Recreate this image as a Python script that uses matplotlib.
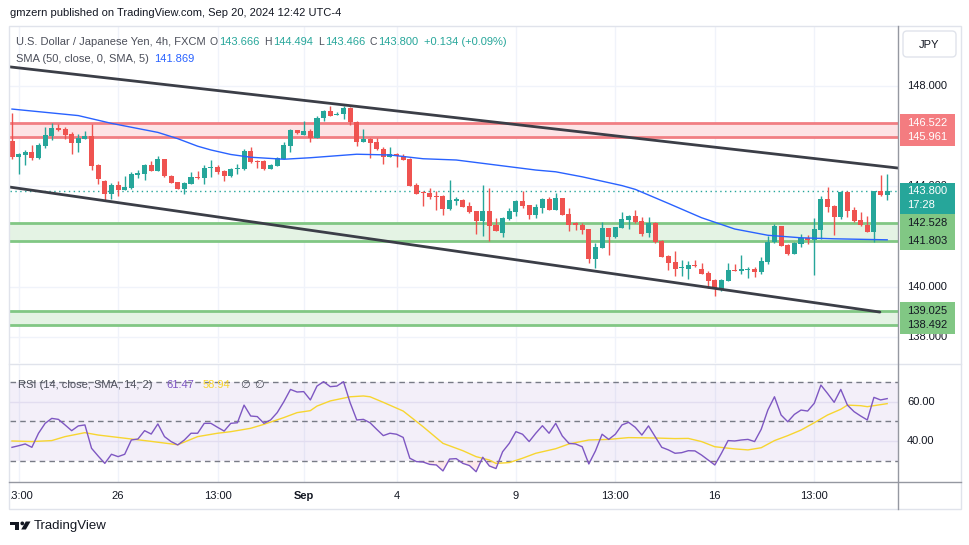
import matplotlib
matplotlib.use("Agg")
import matplotlib.pyplot as plt
import numpy as np
from matplotlib.patches import Rectangle, FancyBboxPatch, Polygon, Circle
from matplotlib.lines import Line2D
from matplotlib.transforms import Affine2D, Bbox, blended_transform_factory, offset_copy

plt.rcParams['font.family'] = ['Liberation Sans', 'DejaVu Sans']

# ---- USD/JPY 4h candles, Aug 21 09:00 .. Sep 20 09:00 (UTC-4) ----
opens = [145.81, 145.18, 145.25, 145.36, 145.14, 145.61, 146.02, 146.33, 146.30, 146.09,
         145.74, 145.90, 146.01, 144.85, 144.21, 143.71, 144.05, 143.87, 143.95, 144.45,
         144.51, 144.85, 144.63, 145.09, 144.41, 144.16, 143.91, 144.11, 144.39, 144.35,
         144.75, 144.78, 144.61, 144.43, 144.68, 144.69, 145.41, 145.01, 145.01, 144.71,
         144.83, 145.09, 145.62, 146.25, 146.06, 146.21, 145.94, 146.71, 147.00, 146.86,
         146.87, 147.12, 146.55, 145.78, 145.89, 145.76, 145.49, 145.18, 145.30, 145.21,
         145.09, 144.04, 143.77, 143.74, 143.62, 143.62, 143.11, 143.43, 143.46, 143.22,
         143.02, 142.63, 143.02, 142.46, 142.15, 142.70, 142.99, 143.43, 143.26, 142.87,
         143.15, 143.50, 143.07, 143.52, 142.90, 142.53, 142.45, 142.29, 141.12, 141.56,
         142.33, 141.97, 142.35, 142.66, 142.82, 142.62, 142.13, 142.55, 141.82, 141.22,
         140.98, 140.73, 140.72, 140.85, 140.70, 140.55, 140.27, 139.88, 140.24, 140.68,
         140.64, 140.68, 140.72, 140.59, 141.00, 141.77, 142.42, 141.66, 141.30, 141.71,
         141.93, 141.86, 142.26, 143.50, 143.22, 142.76, 143.77, 143.06, 142.66, 142.46,
         142.19, 143.80, 143.666]
highs = [146.91, 145.34, 145.45, 145.65, 145.72, 146.37, 146.53, 146.50, 146.37, 146.17,
         146.09, 146.21, 146.50, 144.88, 144.24, 144.12, 144.23, 144.41, 144.56, 144.65,
         144.90, 145.01, 145.20, 145.09, 144.44, 144.17, 144.16, 144.56, 144.61, 144.85,
         145.05, 144.85, 144.64, 144.75, 144.90, 145.47, 145.57, 145.04, 145.04, 144.88,
         145.17, 145.77, 146.29, 146.26, 146.61, 146.29, 146.80, 147.06, 147.20, 146.96,
         147.20, 147.16, 146.61, 146.29, 145.91, 145.94, 145.58, 145.56, 145.34, 145.30,
         145.13, 144.12, 143.83, 143.92, 143.80, 143.66, 144.25, 143.56, 143.48, 143.38,
         143.03, 144.05, 143.93, 142.74, 142.77, 143.12, 143.46, 143.82, 143.27, 143.30,
         143.52, 143.59, 143.75, 143.55, 143.14, 142.57, 142.53, 142.31, 141.76, 142.57,
         142.35, 142.39, 142.96, 142.84, 143.06, 142.79, 142.79, 142.58, 141.85, 141.25,
         141.44, 141.06, 141.01, 141.06, 140.93, 140.63, 140.29, 140.29, 140.93, 140.90,
         141.26, 140.80, 140.80, 141.17, 142.03, 142.51, 142.42, 141.69, 141.77, 142.10,
         142.05, 142.74, 143.62, 143.99, 143.24, 143.81, 143.80, 143.16, 142.98, 142.82,
         143.83, 144.45, 144.494]
lows = [145.08, 144.49, 144.85, 145.05, 145.08, 145.54, 145.85, 146.21, 145.90, 145.29,
        145.38, 145.87, 144.65, 144.08, 143.46, 143.48, 143.62, 143.84, 143.91, 144.35,
        144.27, 144.61, 144.61, 144.37, 144.12, 143.89, 143.71, 144.09, 144.31, 144.11,
        144.39, 144.48, 144.23, 144.37, 144.48, 144.64, 144.94, 144.74, 144.67, 144.69,
        144.81, 145.08, 145.36, 146.07, 146.05, 145.78, 145.93, 146.62, 146.80, 146.84,
        146.68, 146.45, 145.62, 145.77, 145.14, 145.46, 144.90, 145.17, 144.78, 145.04,
        144.01, 143.70, 143.22, 143.48, 143.06, 142.87, 143.06, 143.24, 143.18, 142.95,
        142.11, 142.03, 141.81, 142.22, 141.99, 142.67, 142.82, 143.12, 142.71, 142.75,
        142.92, 143.06, 143.06, 142.84, 142.23, 142.26, 142.09, 140.96, 140.76, 141.54,
        141.28, 141.95, 142.34, 142.31, 142.55, 142.02, 141.97, 141.75, 141.18, 140.67,
        140.44, 140.43, 140.32, 140.77, 140.49, 139.96, 139.64, 139.83, 140.23, 140.63,
        140.52, 140.35, 140.40, 140.52, 140.92, 141.75, 141.62, 141.26, 141.29, 141.58,
        141.71, 140.47, 141.89, 142.98, 142.06, 142.71, 142.76, 142.58, 142.42, 142.17,
        141.79, 143.63, 143.466]
closes = [145.18, 145.29, 145.37, 145.14, 145.65, 146.05, 146.33, 146.23, 146.05, 145.74,
          145.94, 146.01, 144.83, 144.31, 143.71, 144.05, 143.87, 143.97, 144.49, 144.53,
          144.85, 144.63, 145.09, 144.40, 144.15, 143.91, 144.12, 144.39, 144.35, 144.73,
          144.78, 144.59, 144.43, 144.69, 144.72, 145.41, 144.98, 144.98, 144.71, 144.85,
          145.12, 145.65, 146.26, 146.11, 146.21, 145.94, 146.72, 147.00, 146.82, 146.88,
          147.12, 146.55, 145.78, 145.89, 145.74, 145.48, 145.18, 145.29, 145.20, 145.05,
          144.03, 143.71, 143.74, 143.58, 143.59, 143.11, 143.46, 143.48, 143.19, 142.99,
          142.63, 143.02, 142.43, 142.23, 142.75, 143.02, 143.43, 143.22, 142.86, 143.16,
          143.50, 143.07, 143.52, 142.87, 142.47, 142.45, 142.26, 141.12, 141.58, 142.33,
          141.97, 142.38, 142.69, 142.82, 142.58, 142.10, 142.55, 141.78, 141.20, 140.96,
          140.70, 140.76, 140.87, 140.83, 140.51, 140.24, 139.89, 140.27, 140.66, 140.64,
          140.72, 140.72, 140.59, 141.02, 141.80, 142.42, 141.64, 141.30, 141.74, 141.93,
          141.86, 142.29, 143.50, 143.19, 142.79, 143.77, 143.03, 142.63, 142.45, 142.19,
          143.80, 143.67, 143.800]

# SMA(50) read at selected candles
sma_idx = [0, 10, 15, 22, 25, 28, 30, 33, 36, 41, 45, 48, 52, 57, 62, 67, 73, 79, 82, 86,
           92, 94, 99, 104, 109, 114, 119, 124, 132]
sma_val = [147.08, 146.82, 146.51, 146.15, 145.90, 145.60, 145.45, 145.27, 145.16, 145.08,
           145.14, 145.20, 145.28, 145.25, 145.10, 145.05, 144.85, 144.65, 144.58, 144.38,
           144.03, 143.88, 143.32, 142.75, 142.30, 142.05, 141.95, 141.91, 141.869]

# RSI(14) per candle
rsi = [36.9, 37.7, 38.6, 36.9, 44.0, 49.0, 51.5, 51.0, 48.2, 45.3,
       47.7, 48.2, 36.4, 32.5, 28.8, 33.4, 32.2, 33.4, 40.6, 41.1,
       45.3, 43.6, 48.7, 42.3, 39.8, 38.1, 40.6, 44.0, 44.0, 49.0,
       49.0, 47.0, 45.1, 49.0, 49.3, 58.2, 52.7, 52.4, 49.0, 50.7,
       54.4, 59.9, 66.1, 64.8, 65.0, 60.8, 67.8, 70.0, 67.5, 67.8,
       70.0, 59.4, 50.7, 51.0, 49.3, 46.0, 42.8, 44.0, 43.5, 41.9,
       31.4, 29.7, 29.5, 28.3, 28.0, 25.0, 31.0, 31.2, 28.8, 27.7,
       24.6, 31.9, 27.5, 26.2, 34.7, 38.9, 44.8, 43.5, 39.8, 44.0,
       47.8, 44.0, 49.0, 42.6, 38.9, 38.6, 37.2, 28.5, 35.1, 43.5,
       40.9, 43.5, 48.2, 49.5, 47.0, 43.1, 47.7, 42.3, 36.9, 35.6,
       33.9, 34.2, 35.2, 35.1, 33.0, 30.5, 28.0, 33.9, 40.3, 40.1,
       40.6, 40.9, 39.8, 46.0, 55.7, 62.4, 53.2, 49.8, 53.5, 55.7,
       55.2, 59.1, 68.3, 64.1, 59.6, 66.1, 58.2, 54.9, 52.7, 50.7,
       62.1, 60.8, 61.47]

# SMA(14) of RSI read at selected candles
rsi_sma_idx = [0, 3, 6, 8, 11, 13, 16, 18, 21, 25, 28, 31, 33, 36, 38, 41, 43, 45, 46, 48,
               51, 53, 54, 56, 59, 62, 65, 68, 70, 72, 73, 75, 77, 79, 82, 84, 87, 90, 93, 97,
               100, 102, 104, 106, 109, 111, 113, 115, 117, 119, 121, 123, 125, 126, 128, 129, 132]
rsi_sma_val = [40.1, 39.8, 40.3, 42.3, 44.3, 43.1, 41.9, 41.1, 39.9, 38.2, 42.3, 44.0, 44.8, 46.5,
               48.5, 51.9, 54.4, 55.4, 57.7, 60.3, 62.4, 62.8, 62.4, 59.6, 55.2, 47.3, 38.9, 35.2,
               32.2, 30.5, 28.8, 29.2, 31.4, 33.9, 36.2, 38.6, 40.6, 40.9, 41.8, 41.6, 41.3, 41.4,
               39.8, 37.2, 36.1, 35.6, 36.7, 40.3, 42.8, 45.6, 49.3, 53.2, 56.1, 58.2, 57.9, 57.4,
               58.94]

# drawings
upper_line_idx = [-0.3, 133.6]
upper_line_price = [148.76, 144.73]
lower_line_idx = [-0.3, 130.9]
lower_line_price = [143.97, 138.99]
resistance_zone = (145.961, 146.522)
support_zones = [(141.803, 142.528), (138.492, 139.025)]
last_close = 143.800
change_txt = '+0.134 (+0.09%)'
countdown = '17:28'

time_tick_idx = [1, 16, 31, 44, 58, 76, 91, 106, 121]
time_tick_lbl = ['13:00', '26', '13:00', 'Sep', '4', '9', '13:00', '16', '13:00']
price_ticks = [148, 146, 144, 142, 140, 138]
rsi_ticks = [60, 40]
rsi_bands = [70, 50, 30]

UP, DOWN = '#26a69a', '#ef5350'
TXT = '#131722'
W, H = 970, 545

fig = plt.figure(figsize=(W / 100, H / 100), dpi=100)
fig.patch.set_facecolor('white')
pix = Affine2D().scale(1 / W, -1 / H).translate(0, 1) + fig.transFigure

ax = fig.add_axes([10 / W, 1 - 363 / H, 888 / W, 337 / H])
ax2 = fig.add_axes([10 / W, 1 - 482 / H, 888 / W, 118 / H], sharex=ax)
for a in (ax, ax2):
    a.set_facecolor('none')
    for s in a.spines.values():
        s.set_visible(False)
    a.tick_params(left=False, bottom=False, labelleft=False, labelbottom=False)
    for t in time_tick_idx:
        a.axvline(t, color='#f0f3fa', lw=1, zorder=0.5)

ax.set_xlim(-0.3, 133.63)
ax.set_ylim(136.96, 150.39)
ax2.set_ylim(19.41, 78.93)

# ---- price pane ----
for p in price_ticks:
    ax.axhline(p, color='#f0f3fa', lw=1, zorder=0.5)

ax.axhspan(*resistance_zone, color='#fde3e5', lw=0, zorder=1)
for p in resistance_zone:
    ax.axhline(p, color='#f17e83', lw=2, zorder=1.5)
for z in support_zones:
    ax.axhspan(*z, color='#e4f3e4', lw=0, zorder=1)
    for p in z:
        ax.axhline(p, color='#81c784', lw=2, zorder=1.5)

ax.axhline(last_close, color=UP, lw=1, ls=(0, (1, 2.5)), zorder=2)

x = np.arange(len(opens))
o, h, l, c = (np.array(v) for v in (opens, highs, lows, closes))
cols = np.where(c >= o, UP, DOWN)
ax.vlines(x, l, h, colors=cols, lw=1, zorder=3)
ax.bar(x, np.maximum(np.abs(c - o), 0.04), bottom=np.minimum(o, c), width=0.76,
       color=cols, lw=0, zorder=4)

ax.plot(sma_idx, sma_val, color='#2962ff', lw=1, zorder=5)
ax.plot(upper_line_idx, upper_line_price, color='#3b3e47', lw=2, solid_capstyle='round', zorder=6)
ax.plot(lower_line_idx, lower_line_price, color='#3b3e47', lw=2, solid_capstyle='round', zorder=6)

# ---- RSI pane ----
rsi_a = np.array(rsi)
ax2.axhspan(30, 70, color='#7e57c2', alpha=0.09, lw=0, zorder=0.6)
for v in rsi_ticks:
    ax2.axhline(v, color='#e2ddf0', lw=1, zorder=0.7)
for v in rsi_bands:
    ax2.axhline(v, color='#787b86', lw=1, ls=(0, (4, 3)), zorder=1)
ax2.fill_between(x, rsi_a, 30, where=rsi_a < 30, interpolate=True, color='#f23645',
                 alpha=0.1, lw=0, zorder=1)
ax2.plot(rsi_sma_idx, rsi_sma_val, color='#f7d530', lw=1, zorder=2)
ax2.plot(x, rsi_a, color='#7e57c2', lw=1, zorder=3)

# ---- frame and axis lines ----
fig.add_artist(Rectangle((9, 26), 952, 483, transform=pix, fill=False, ec='#e0e3eb', lw=1))
fig.add_artist(Line2D([9, 961], [364, 364], transform=pix, color='#e0e3eb', lw=1))
fig.add_artist(Line2D([9, 961], [482, 482], transform=pix, color='#9598a1', lw=1))
fig.add_artist(Line2D([898, 898], [26, 509], transform=pix, color='#9598a1', lw=1))

# ---- right price scale ----
yt = blended_transform_factory(fig.transFigure, ax.transData)
yt2 = blended_transform_factory(fig.transFigure, ax2.transData)
ppu = ax.transData.transform((0, 1))[1] - ax.transData.transform((0, 0))[1]
lx = 907 / W

for p in price_ticks:
    ax.text(lx, p, f'{p:.3f}', transform=yt, ha='left', va='center', fontsize=8,
            color=TXT, clip_on=False, zorder=7)
for v in rsi_ticks:
    ax2.text(lx, v, f'{v:.2f}', transform=yt2, ha='left', va='center', fontsize=8,
             color=TXT, clip_on=False, zorder=7)


def scale_label(p, fc, tc, up=9.0, down=9.0):
    ax.add_patch(Rectangle((900 / W, p - down / ppu), 55 / W, (up + down) / ppu,
                           transform=yt, fc=fc, ec='none', clip_on=False, zorder=8))
    ax.text(lx, p, f'{p:.3f}', transform=yt, ha='left', va='center', fontsize=8,
            color=tc, clip_on=False, zorder=9)


for p in resistance_zone:
    scale_label(p, '#f47c80', 'white')
for z in support_zones:
    for p in z:
        scale_label(p, '#81c784', TXT)
scale_label(last_close, UP, 'white', up=8.7, down=22.6)
ax.text(lx, last_close, countdown, transform=offset_copy(yt, fig=fig, y=-14, units='dots'),
        ha='left', va='center', fontsize=8, color='white', clip_on=False, zorder=9)

fig.add_artist(FancyBboxPatch((903, 31), 53, 26, boxstyle='round,pad=0,rounding_size=4',
                              transform=pix, fc='white', ec='#e0e3eb', lw=1))
fig.text(929.5, 44.5, 'JPY', transform=pix, ha='center', va='center', fontsize=8, color=TXT)

# ---- time scale ----
xt = blended_transform_factory(ax2.transData, pix)
for i, lbl in zip(time_tick_idx, time_tick_lbl):
    t = ax2.text(i, 496, lbl, transform=xt, ha='center', va='center', fontsize=8, color=TXT,
                 fontweight='bold' if lbl == 'Sep' else 'normal', clip_on=True)
    t.set_clip_box(Bbox([[11, 0], [W, H]]))

# ---- header / legends ----
def seg(xp, yp, s, col, size=8, **kw):
    fig.text(xp, yp, s, transform=pix, ha='left', va='center', fontsize=size, color=col, **kw)


seg(10, 13, 'gmzern published on TradingView.com, Sep 20, 2024 12:42 UTC-4', TXT)
GR = '#4c4f5a'
seg(16, 42, 'U.S. Dollar / Japanese Yen, 4h, FXCM', GR)
seg(210, 42, 'O', GR, 7.5)
seg(219, 42, f'{opens[-1]:.3f}', UP)
seg(264, 42, 'H', GR, 7.5)
seg(273, 42, f'{highs[-1]:.3f}', UP)
seg(318, 42, 'L', GR, 7.5)
seg(325, 42, f'{lows[-1]:.3f}', UP)
seg(370, 42, 'C', GR, 7.5)
seg(378, 42, f'{closes[-1]:.3f}', UP)
seg(424, 42, change_txt, UP)
seg(16, 59, 'SMA (50, close, 0, SMA, 5)', GR)
seg(154, 59, f'{sma_val[-1]:.3f}', '#2962ff')
seg(18, 385, 'RSI (14, close, SMA, 14, 2)', GR)
seg(166, 385, f'{rsi[-1]:.2f}', '#7e57c2')
seg(203, 385, f'{rsi_sma_val[-1]:.2f}', '#f7d530')
seg(240, 385, '\u2205', GR)
seg(254, 385, '\u2205', GR)

# ---- footer logo ----
fig.add_artist(Polygon([(10, 521.5), (19.5, 521.5), (19.5, 529.5), (15.5, 529.5), (15.5, 525.2),
                        (10, 525.2)], closed=True, transform=pix, fc=TXT, ec='none'))
fig.add_artist(Circle((22.3, 523.4), 1.9, transform=pix, fc=TXT, ec='none'))
fig.add_artist(Polygon([(21.2, 529.5), (25.8, 521.5), (30.5, 521.5), (25.9, 529.5)], closed=True,
                       transform=pix, fc=TXT, ec='none'))
fig.text(34, 526.5, 'TradingView', transform=pix, ha='left', va='center', fontsize=9.5, color=TXT)

fig.savefig('out.png', dpi=100, facecolor='white')
